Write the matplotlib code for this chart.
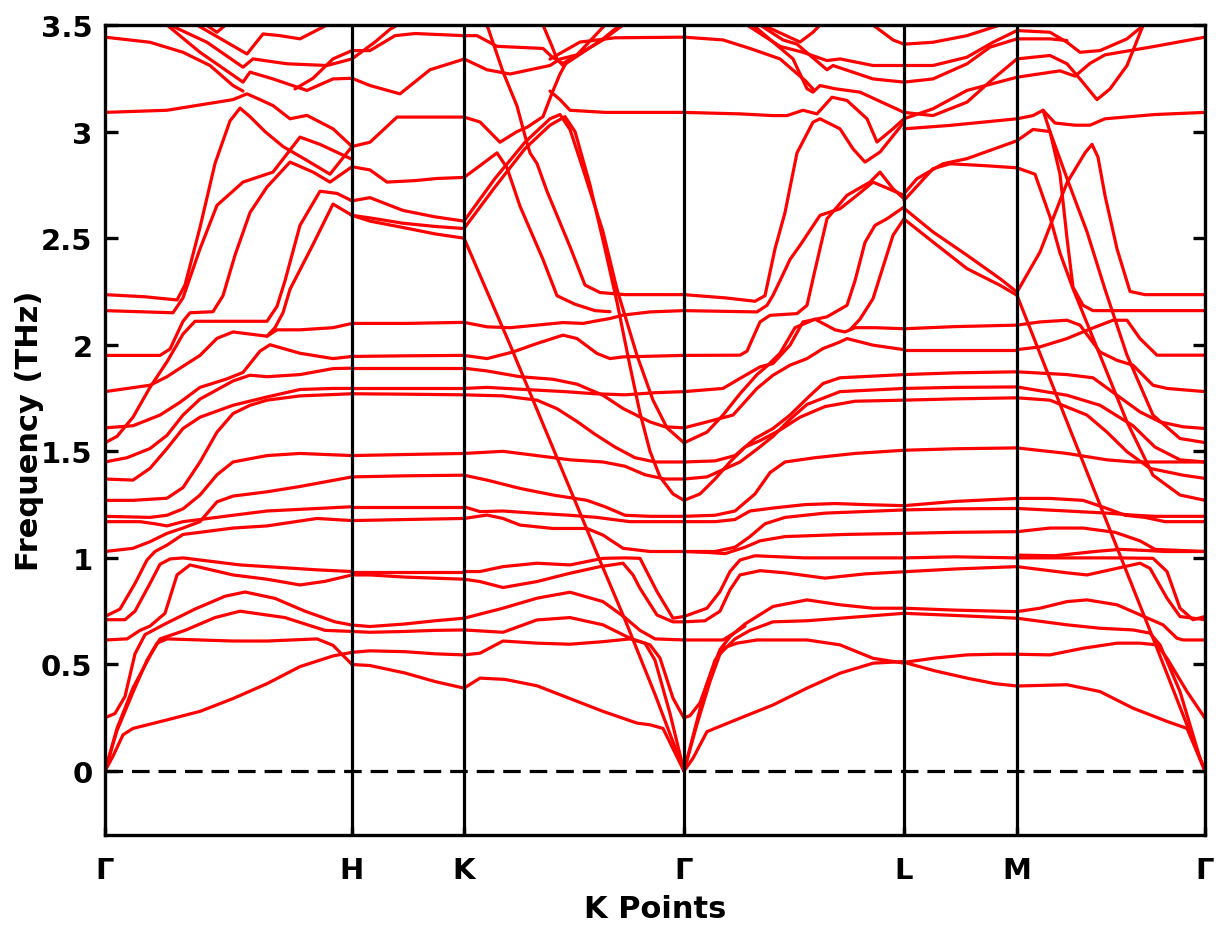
import matplotlib
matplotlib.use("Agg")
import matplotlib.pyplot as plt

# high-symmetry points along the path
kpath_pos = [0.0, 2.47, 3.59, 5.79, 7.99, 9.12, 11.0]
kpath_labels = ["Γ", "H", "K", "Γ", "L", "M", "Γ"]
freq_ticks = [0, 0.5, 1, 1.5, 2, 2.5, 3, 3.5]
freq_labels = ["0", "0.5", "1", "1.5", "2", "2.5", "3", "3.5"]

# phonon branches, (k, frequency THz), segment by segment
seg_gamma_h = [
    ([0,0.08,0.18,0.28,0.62,0.95,1.28,1.62,1.95,2.28,2.47],[0,0.07,0.17,0.20,0.24,0.28,0.34,0.41,0.49,0.54,0.557]),
    ([0,0.12,0.28,0.42,0.52,0.62,1.28,1.62,2.12,2.28,2.47],[0,0.19,0.37,0.52,0.60,0.62,0.61,0.61,0.62,0.59,0.50]),
    ([0,0.12,0.28,0.45,0.55,0.8,1.1,1.35,1.8,2.2,2.47],[0,0.20,0.39,0.54,0.62,0.66,0.72,0.75,0.72,0.66,0.655]),
    ([0,0.1,0.2,0.3,0.4,0.6,0.9,1.2,1.4,1.7,2.0,2.3,2.47],[0.25,0.27,0.35,0.55,0.64,0.69,0.76,0.82,0.84,0.81,0.75,0.70,0.685]),
    ([0,0.22,0.35,0.45,0.6,0.72,0.85,1.28,1.62,1.95,2.2,2.47],[0.615,0.62,0.66,0.68,0.74,0.92,0.967,0.92,0.90,0.873,0.89,0.92]),
    ([0,0.2,0.3,0.45,0.55,0.65,0.78,1.35,2.12,2.47],[0.71,0.71,0.75,0.88,0.97,0.995,1.0,0.967,0.944,0.936]),
    ([0,0.15,0.3,0.42,0.5,0.62,0.78,0.95,1.28,1.62,2.12,2.47],[0.725,0.76,0.88,0.99,1.03,1.06,1.11,1.12,1.14,1.15,1.185,1.175]),
    ([0,0.28,0.45,0.62,0.78,0.95,1.12,1.28,1.62,1.95,2.47],[1.03,1.045,1.076,1.115,1.14,1.17,1.263,1.29,1.31,1.335,1.38]),
    ([0,0.35,0.5,0.62,0.78,0.95,1.28,1.62,2.47],[1.17,1.17,1.16,1.15,1.17,1.18,1.20,1.22,1.24]),
    ([0,0.45,0.62,0.78,0.95,1.12,1.28,1.62,1.95,2.47],[1.195,1.19,1.20,1.23,1.295,1.39,1.45,1.48,1.49,1.48]),
    ([0,0.28,0.62,0.78,0.95,1.12,1.28,1.45,1.62,1.95,2.47],[1.27,1.27,1.28,1.33,1.45,1.59,1.677,1.716,1.74,1.76,1.77]),
    ([0,0.28,0.45,0.62,0.78,0.95,1.28,1.62,1.95,2.28,2.47],[1.37,1.365,1.42,1.513,1.607,1.66,1.716,1.755,1.79,1.795,1.795]),
    ([0,0.22,0.45,0.62,0.78,0.95,1.28,1.45,1.62,1.95,2.28,2.47],[1.45,1.47,1.513,1.575,1.67,1.745,1.83,1.857,1.85,1.86,1.888,1.89]),
    ([0,0.12,0.28,0.45,0.62,0.78,0.9,1.28,1.62,1.72,1.8,1.95,2.15,2.32,2.47],[1.54,1.57,1.66,1.80,1.92,2.05,2.11,2.11,2.11,2.18,2.30,2.56,2.72,2.71,2.675]),
    ([0,0.28,0.55,0.75,0.95,1.22,1.38,1.55,1.65,1.95,2.28,2.47],[1.61,1.62,1.67,1.73,1.80,1.84,1.87,1.97,2.0,1.96,1.935,1.945]),
    ([0,0.45,0.62,0.75,0.95,1.12,1.28,1.45,1.62,1.72,1.95,2.28,2.47],[1.78,1.81,1.85,1.89,1.95,2.03,2.06,2.05,2.04,2.07,2.07,2.08,2.10]),
    ([1.62,1.7,1.78,1.85,2.08,2.28,2.47],[2.04,2.08,2.15,2.26,2.47,2.66,2.607]),
    ([0,0.55,0.65,0.78,0.85,1.08,1.18,1.3,1.45,1.62,1.85,2.08,2.25,2.47],[1.95,1.95,1.98,2.11,2.15,2.155,2.23,2.42,2.62,2.74,2.857,2.81,2.763,2.835]),
    ([0,0.68,0.78,0.95,1.12,1.38,1.68,1.95,2.15,2.47],[2.16,2.15,2.22,2.45,2.654,2.763,2.81,2.974,2.94,2.87]),
    ([0,0.4,0.72,0.8,0.95,1.1,1.25,1.35,1.45,1.6,1.78,2.0,2.25,2.47],[2.235,2.225,2.21,2.28,2.55,2.85,3.05,3.11,3.07,3.0,2.93,2.87,2.80,2.93]),
    ([0,0.62,1.28,1.42,1.55,1.68,1.85,2.02,2.28,2.47],[3.09,3.10,3.15,3.177,3.15,3.122,3.06,3.076,3.013,2.93]),
    ([0,0.45,0.78,1.05,1.28,1.38],[3.443,3.419,3.372,3.31,3.216,3.19]),
    ([0.62,0.95,1.38,1.45,1.68,2.02,2.28,2.47],[3.50,3.372,3.232,3.279,3.247,3.193,3.247,3.25]),
    ([0.65,1.02,1.38,1.48,1.82,2.22,2.47],[3.50,3.419,3.302,3.341,3.318,3.31,3.341]),
    ([0.92,1.42,1.58,1.75,1.95,2.22],[3.50,3.364,3.458,3.45,3.435,3.50]),
    ([0.98,1.12,1.23],[3.51,3.466,3.51]),
    ([1.9,2.08,2.28,2.47],[3.2,3.25,3.341,3.38]),
]

seg_h_k = [
    ([2.47,3.0,3.59],[2.10,2.10,2.105]),
    ([2.47,3.0,3.59],[1.945,1.948,1.95]),
    ([2.47,3.0,3.59],[1.89,1.89,1.89]),
    ([2.47,3.0,3.59],[1.795,1.795,1.795]),
    ([2.47,3.0,3.59],[1.77,1.768,1.765]),
    ([2.47,3.0,3.59],[1.48,1.485,1.49]),
    ([2.47,3.0,3.59],[1.38,1.385,1.388]),
    ([2.47,3.0,3.59],[1.24,1.24,1.24]),
    ([2.47,3.0,3.59],[1.175,1.18,1.185]),
    ([2.47,3.0,3.59],[0.936,0.936,0.936]),
    ([2.47,2.65,3.0,3.59],[0.92,0.92,0.91,0.90]),
    ([2.47,2.65,3.0,3.3,3.59],[0.685,0.678,0.69,0.705,0.717]),
    ([2.47,2.65,3.0,3.3,3.59],[0.655,0.651,0.655,0.66,0.662]),
    ([2.47,2.65,3.0,3.3,3.59],[0.557,0.564,0.56,0.55,0.545]),
    ([2.47,2.65,3.0,3.3,3.59],[0.50,0.495,0.46,0.42,0.389]),
    ([2.47,2.65,2.98,3.3,3.59],[2.675,2.69,2.63,2.60,2.58]),
    ([2.47,2.65,2.98,3.3,3.59],[2.607,2.595,2.57,2.555,2.545]),
    ([2.47,2.65,2.98,3.3,3.59],[2.607,2.58,2.55,2.52,2.50]),
    ([2.47,2.65,2.82,3.1,3.32,3.59],[2.835,2.82,2.763,2.77,2.78,2.785]),
    ([2.47,2.65,2.92,3.2,3.59],[2.93,2.95,3.068,3.068,3.068]),
    ([2.47,2.65,2.95,3.25,3.59],[3.25,3.216,3.177,3.29,3.34]),
    ([2.47,2.65,2.9,3.1,3.59],[3.38,3.38,3.45,3.46,3.45]),
    ([2.47,2.7,2.85,3.0],[3.341,3.42,3.48,3.52]),
]

seg_k_gamma = [
    ([3.59,3.75,3.98,4.32,4.65,4.98,5.2,5.35,5.52,5.68,5.79],[0.936,0.936,0.959,0.975,0.967,0.998,1.0,0.998,0.842,0.717,0.725]),
    ([3.59,3.75,3.98,4.32,4.65,4.95,5.18,5.28,5.35,5.52,5.68,5.79],[0.90,0.889,0.861,0.889,0.928,0.959,0.975,0.92,0.857,0.732,0.70,0.70]),
    ([3.59,3.98,4.32,4.65,4.98,5.2,5.35,5.5,5.79],[0.717,0.764,0.811,0.839,0.795,0.72,0.66,0.62,0.615]),
    ([3.59,3.98,4.32,4.65,4.98,5.25,5.45,5.55,5.68,5.79],[0.662,0.651,0.709,0.72,0.686,0.623,0.592,0.53,0.342,0.248]),
    ([3.59,3.75,3.98,4.32,4.65,4.98,5.25,5.4,5.5,5.65,5.79],[0.545,0.553,0.61,0.60,0.595,0.607,0.62,0.60,0.52,0.27,0.0]),
    ([3.59,3.75,4.0,4.32,4.65,4.98,5.32,5.45,5.58,5.79],[0.389,0.436,0.43,0.40,0.34,0.28,0.225,0.217,0.20,0.0]),
    ([3.59,4.05,4.52,4.92,5.2,5.5,5.79],[2.50,2.0,1.47,1.02,0.71,0.36,0.0]),
    ([3.59,3.82,4.05,4.32,4.58,4.78,4.95,5.05,5.18,5.45,5.79],[2.105,2.084,2.08,2.092,2.104,2.10,2.115,2.123,2.139,2.154,2.16]),
    ([3.59,3.82,4.08,4.32,4.58,4.72,4.92,5.05,5.18,5.79],[1.95,1.935,1.966,2.006,2.045,2.029,1.959,1.935,1.943,1.95]),
    ([3.59,3.82,4.15,4.48,4.72,4.98,5.18,5.45,5.6,5.79],[1.89,1.877,1.85,1.838,1.815,1.763,1.701,1.638,1.615,1.61]),
    ([3.59,3.82,4.2,4.6,4.9,5.2,5.5,5.79],[1.795,1.80,1.79,1.78,1.77,1.765,1.775,1.78]),
    ([3.59,3.98,4.32,4.52,4.72,4.9,5.1,5.3,5.5,5.79],[1.765,1.76,1.74,1.70,1.64,1.58,1.52,1.47,1.45,1.45]),
    ([3.59,3.98,4.32,4.65,4.98,5.2,5.4,5.6,5.79],[1.49,1.50,1.48,1.46,1.45,1.43,1.39,1.37,1.37]),
    ([3.59,3.82,4.15,4.48,4.82,5.0,5.2,5.45,5.79],[1.388,1.365,1.326,1.295,1.27,1.24,1.20,1.195,1.195]),
    ([3.59,3.75,3.98,4.32,4.65,4.92,5.08,5.25,5.45,5.79],[1.24,1.217,1.22,1.209,1.20,1.19,1.18,1.17,1.17,1.17]),
    ([3.59,3.82,3.98,4.15,4.48,4.82,4.98,5.18,5.45,5.79],[1.185,1.201,1.185,1.154,1.138,1.138,1.107,1.045,1.03,1.03]),
    ([3.59,3.9,4.2,4.45,4.55,4.65,4.78,4.98,5.12,5.32,5.48,5.62,5.79],[2.58,2.78,2.95,3.06,3.08,3.01,2.825,2.53,2.26,1.95,1.74,1.61,1.54]),
    ([3.59,3.9,4.2,4.45,4.6,4.7,4.85,5.0,5.12,5.25,5.35,5.45,5.55,5.68,5.79],[2.545,2.74,2.92,3.03,3.07,3.0,2.75,2.45,2.2,1.9,1.68,1.5,1.38,1.30,1.27]),
    ([3.59,3.75,3.92,4.02,4.15,4.38,4.52,4.7,4.9,5.05],[2.785,2.84,2.90,2.83,2.65,2.40,2.23,2.19,2.16,2.155]),
    ([3.82,3.98,4.12,4.2,4.25,4.32,4.42,4.65,4.8,4.95,5.2,5.79],[3.5,3.28,3.12,2.98,2.90,2.85,2.72,2.46,2.28,2.245,2.235,2.235]),
    ([3.59,3.75,3.95,4.12,4.22,4.38,4.47,4.55,4.62],[3.068,3.045,2.95,3.0,3.02,3.07,3.18,3.27,3.33]),
    ([4.45,4.55,4.65,5.0,5.79],[3.19,3.15,3.10,3.09,3.09]),
    ([3.59,3.72,3.92,4.38,4.47,4.58,4.98,5.18],[3.45,3.45,3.40,3.39,3.35,3.32,3.43,3.50]),
    ([3.59,3.82,4.05,4.45,4.55,4.72,5.0],[3.341,3.29,3.27,3.31,3.34,3.36,3.5]),
    ([4.38,4.47,4.52,4.58,4.78,4.98,5.15],[3.50,3.40,3.34,3.31,3.372,3.435,3.50]),
    ([4.45,4.75,5.1,5.79],[3.34,3.42,3.44,3.443]),
]

seg_gamma_l = [
    ([5.79,5.88,6.02,6.35,6.68,7.02,7.35,7.68,7.99],[0,0.06,0.185,0.248,0.31,0.389,0.459,0.506,0.514]),
    ([5.79,5.9,6.0,6.1,6.2,6.32,6.52,7.02,7.35,7.68,7.99],[0,0.2,0.38,0.52,0.58,0.60,0.615,0.615,0.592,0.529,0.506]),
    ([5.79,5.92,6.05,6.15,6.3,6.45,6.68,7.02,7.35,7.99],[0,0.22,0.42,0.55,0.62,0.66,0.70,0.705,0.717,0.74]),
    ([5.79,5.85,5.95,6.05,6.15,6.25,6.4,6.68,7.02,7.35,7.68,7.99],[0.25,0.26,0.32,0.45,0.57,0.63,0.69,0.772,0.803,0.78,0.764,0.764]),
    ([5.79,6.18,6.3,6.4],[0.615,0.615,0.65,0.68]),
    ([5.79,6.0,6.15,6.25,6.35,6.55,6.8,7.2,7.6,7.99],[0.70,0.705,0.75,0.85,0.92,0.94,0.93,0.905,0.925,0.935]),
    ([5.79,6.02,6.15,6.25,6.35,6.5,7.0,7.99],[0.725,0.764,0.842,0.936,0.99,1.01,1.0,1.0]),
    ([5.79,6.05,6.2,6.4,6.55,6.8,7.4,7.99],[1.03,1.025,1.02,1.05,1.08,1.10,1.11,1.115]),
    ([5.79,6.1,6.3,6.45,6.6,6.8,7.2,7.99],[1.03,1.03,1.05,1.1,1.16,1.19,1.21,1.225]),
    ([5.79,6.1,6.3,6.45,6.7,7.0,7.3,7.6,7.99],[1.17,1.17,1.18,1.22,1.235,1.25,1.255,1.25,1.245]),
    ([5.79,6.1,6.3,6.5,6.65,6.8,7.1,7.5,7.99],[1.195,1.20,1.22,1.30,1.40,1.45,1.47,1.49,1.505]),
    ([5.79,5.95,6.1,6.25,6.4,6.55,6.75,6.95,7.2,7.5,7.99],[1.27,1.30,1.37,1.45,1.52,1.55,1.60,1.66,1.71,1.735,1.74]),
    ([5.79,6.02,6.35,6.52,6.68,6.85,7.02,7.35,7.99],[1.37,1.38,1.45,1.51,1.57,1.65,1.72,1.78,1.795]),
    ([5.79,6.1,6.3,6.5,6.68,6.85,7.02,7.18,7.35,7.99],[1.45,1.455,1.48,1.56,1.607,1.67,1.748,1.818,1.845,1.86]),
    ([5.79,6.02,6.18,6.35,6.52,6.62,6.75,6.9,7.1,7.3,7.4,7.5,7.7,7.99],[1.54,1.59,1.67,1.77,1.86,1.90,1.96,2.08,2.12,2.07,2.06,2.08,2.08,2.075]),
    ([5.79,6.02,6.28,6.52,6.68,6.85,7.02,7.18,7.35,7.42,7.68,7.99],[1.61,1.638,1.67,1.795,1.857,1.904,1.935,1.982,2.013,2.029,1.998,1.977]),
    ([5.79,6.18,6.35,6.55,6.68,6.85,6.98,7.22,7.42,7.5,7.6,7.7,7.82,7.99],[1.78,1.795,1.842,1.896,1.912,1.998,2.107,2.131,2.185,2.3,2.48,2.56,2.591,2.646]),
    ([7.45,7.55,7.68,7.88,7.99],[2.07,2.12,2.216,2.513,2.591]),
    ([5.79,6.2,6.5,6.6,6.7,6.8,6.92,7.08,7.15,7.35,7.48,7.6,7.75,7.99],[2.235,2.22,2.204,2.23,2.45,2.62,2.90,3.044,3.06,3.013,2.919,2.857,2.904,3.044]),
    ([5.79,6.52,6.62,6.68,6.75,6.85,6.95,7.15,7.35,7.52,7.68,7.99],[2.16,2.154,2.185,2.232,2.30,2.40,2.466,2.607,2.638,2.701,2.763,2.701]),
    ([5.79,6.35,6.42,6.55,6.65,6.92,7.02,7.1,7.22,7.42,7.65,7.75,7.88,7.99],[1.95,1.951,1.97,2.107,2.138,2.146,2.185,2.35,2.591,2.701,2.763,2.81,2.732,2.685]),
    ([5.79,6.35,6.68,6.82,6.98,7.12,7.27,7.42,7.62,7.72,7.88,7.99],[3.09,3.083,3.075,3.075,3.10,3.083,3.161,3.146,3.06,2.951,3.013,3.06]),
    ([6.48,6.88,7.02,7.08,7.15,7.3,7.55,7.99],[3.50,3.341,3.201,3.185,3.216,3.201,3.185,3.09]),
    ([5.79,6.18,6.45,6.75,7.0,7.08],[3.443,3.43,3.39,3.341,3.24,3.20]),
    ([6.42,6.75,6.98,7.22,7.35,7.68,7.99],[3.50,3.40,3.372,3.333,3.341,3.31,3.31]),
    ([6.55,6.78,6.92,7.22,7.28,7.68,7.99],[3.50,3.43,3.41,3.29,3.31,3.247,3.232]),
    ([6.58,6.95,7.08,7.15],[3.50,3.42,3.466,3.50]),
    ([7.68,7.88,7.99],[3.50,3.43,3.41]),
]

seg_l_m = [
    ([7.99,8.3,8.62,8.9,9.12],[0.51,0.47,0.436,0.41,0.399]),
    ([7.99,8.3,8.62,8.9,9.12],[0.51,0.53,0.545,0.548,0.548]),
    ([7.99,8.5,9.12],[0.74,0.73,0.717]),
    ([7.99,8.5,9.12],[0.764,0.755,0.748]),
    ([7.99,8.5,9.12],[0.935,0.948,0.959]),
    ([7.99,8.5,9.12],[1.0,1.005,1.0]),
    ([7.99,8.5,9.12],[1.115,1.12,1.123]),
    ([7.99,8.5,9.12],[1.225,1.23,1.232]),
    ([7.99,8.5,9.12],[1.245,1.265,1.279]),
    ([7.99,8.5,9.12],[1.505,1.512,1.516]),
    ([7.99,8.5,9.12],[1.74,1.746,1.751]),
    ([7.99,8.5,9.12],[1.795,1.80,1.802]),
    ([7.99,8.5,9.12],[1.86,1.868,1.873]),
    ([7.99,8.5,9.12],[1.977,1.977,1.977]),
    ([7.99,8.5,9.12],[2.075,2.085,2.092]),
    ([7.99,8.28,8.62,8.95],[3.41,3.419,3.45,3.50]),
    ([7.99,8.28,8.62,8.88,9.12,9.45,9.62,9.75,9.95,10.22,10.38],[3.31,3.31,3.349,3.419,3.474,3.466,3.419,3.372,3.38,3.435,3.497]),
    ([7.99,8.28,8.62,8.85,9.12,9.45,9.62],[3.232,3.247,3.318,3.396,3.435,3.435,3.427]),
    ([7.99,8.28,8.62,8.88,9.12,9.45,9.62,9.75,9.92,10.05,10.22,10.38],[3.09,3.075,3.138,3.247,3.341,3.357,3.318,3.247,3.15,3.2,3.31,3.497]),
    ([7.99,8.28,8.62,9.12,9.55,9.7,9.85,10.0,10.5,11.0],[3.06,3.107,3.193,3.255,3.285,3.26,3.32,3.36,3.40,3.443]),
    ([7.99,8.45,9.12,9.28,9.38,9.45,9.62,9.82,10.0,10.22,10.48,10.75,11.0],[3.013,3.029,3.06,3.075,3.10,3.0,2.78,2.53,2.26,1.951,1.67,1.56,1.541]),
    ([7.99,8.12,8.38,8.62,9.12,9.28,9.45,9.55,9.62,9.68,9.78,9.88,10.3,11.0],[2.709,2.779,2.849,2.873,2.957,3.01,3.0,2.8,2.5,2.27,2.185,2.16,2.16,2.16]),
    ([7.99,8.28,8.45,8.8,9.12,9.3,9.45,9.55,9.68,9.95,10.22,10.48,10.75,11.0],[2.677,2.826,2.849,2.84,2.83,2.80,2.6,2.43,2.263,1.951,1.638,1.388,1.295,1.27]),
    ([7.99,8.28,8.62,8.95,9.12,9.35,9.62,9.8,9.87,9.93,10.0,10.12,10.25,10.4,11.0],[2.64,2.529,2.42,2.31,2.247,2.435,2.76,2.9,2.94,2.88,2.7,2.45,2.25,2.235,2.235]),
    ([7.99,8.28,8.62,8.95,9.12,9.5,10.0,10.5,11.0],[2.59,2.482,2.357,2.279,2.232,1.78,1.19,0.60,0.0]),
    ([9.38,9.5,9.7,9.85,10.0,10.5,11.0],[3.10,3.04,3.03,3.03,3.06,3.08,3.09]),
]

seg_m_gamma = [
    ([9.12,9.62,9.95,10.28,10.45,10.55,10.75,10.95,11.0],[0.717,0.686,0.67,0.662,0.647,0.592,0.373,0.06,0.0]),
    ([9.12,9.45,9.78,10.12,10.35,10.52,10.62,10.82,11.0],[0.548,0.545,0.576,0.60,0.60,0.592,0.529,0.373,0.248]),
    ([9.12,9.62,9.95,10.28,10.62,10.82,11.0],[0.399,0.405,0.373,0.295,0.233,0.20,0.0]),
    ([9.12,9.35,9.62,9.82,10.12,10.35,10.58,10.72,10.78,11.0],[0.748,0.764,0.795,0.803,0.78,0.733,0.686,0.623,0.615,0.615]),
    ([9.12,9.62,9.82,10.12,10.35,10.45,10.62,10.75,11.0],[0.959,0.93,0.92,0.951,0.975,0.951,0.811,0.725,0.71]),
    ([9.12,9.62,10.12,10.48,10.62,10.75,10.88,11.0],[1.0,1.0,1.0,0.998,0.936,0.764,0.71,0.725]),
    ([9.12,9.45,9.78,10.02,10.2,10.4,10.6,11.0],[1.279,1.279,1.27,1.232,1.20,1.19,1.17,1.17]),
    ([9.12,9.62,10.02,10.3,10.5,10.7,11.0],[1.232,1.22,1.21,1.20,1.195,1.195,1.195]),
    ([9.12,9.45,9.78,10.1,10.35,10.5,11.0],[1.123,1.14,1.14,1.12,1.08,1.04,1.03]),
    ([9.12,9.5,9.9,10.15,10.4,10.6,11.0],[1.013,1.01,1.03,1.04,1.035,1.03,1.03]),
    ([9.12,9.62,10.02,10.28,10.55,11.0],[1.516,1.49,1.46,1.45,1.45,1.45]),
    ([9.12,9.45,9.82,10.02,10.22,10.45,10.78,11.0],[1.751,1.74,1.67,1.59,1.498,1.42,1.388,1.373]),
    ([9.12,9.62,9.95,10.28,10.5,10.75,11.0],[1.802,1.763,1.716,1.62,1.52,1.46,1.45]),
    ([9.12,9.62,9.88,10.12,10.35,10.55,10.78,11.0],[1.873,1.86,1.845,1.763,1.685,1.638,1.615,1.607]),
    ([9.12,9.35,9.62,9.82,10.08,10.22,10.35,10.52,11.0],[1.977,1.99,2.029,2.068,2.115,2.115,2.029,1.951,1.951]),
    ([9.12,9.35,9.62,9.75,9.95,10.12,10.28,10.48,10.62,11.0],[2.092,2.107,2.115,2.092,1.966,1.927,1.904,1.81,1.795,1.78]),
]

segments = [seg_gamma_h, seg_h_k, seg_k_gamma, seg_gamma_l, seg_l_m, seg_m_gamma]

fig = plt.figure(figsize=(12.19, 9.28), dpi=100)
ax = fig.add_axes([105 / 1219, 1 - 836 / 928, 1100 / 1219, 810 / 928])

for seg in segments:
    for k, f in seg:
        ax.plot(k, f, color="#ff0000", lw=2.3, solid_joinstyle="round",
                solid_capstyle="round", zorder=3)

ax.axhline(0, color="black", lw=2.3, ls=(0, (5.5, 2.8)), zorder=4)
for xv in kpath_pos[1:-1]:
    ax.axvline(xv, color="black", lw=2.3, zorder=5)

ax.set_xlim(kpath_pos[0], kpath_pos[-1])
ax.set_ylim(-0.3, 3.5)
ax.set_xticks(kpath_pos)
ax.set_xticklabels(kpath_labels)
ax.set_yticks(freq_ticks)
ax.set_yticklabels(freq_labels)

for sp in ax.spines.values():
    sp.set_linewidth(2.4)
    sp.set_zorder(6)

ax.tick_params(axis="y", direction="in", length=9, width=2.4, right=True,
               labelsize=21, pad=9)
ax.tick_params(axis="x", direction="in", length=6, width=2.4, top=False,
               labelsize=21, pad=15)
for lab in ax.get_xticklabels() + ax.get_yticklabels():
    lab.set_fontweight("bold")

ax.set_xlabel("K Points", fontsize=22, fontweight="bold", labelpad=7)
ax.set_ylabel("Frequency (THz)", fontsize=22, fontweight="bold", labelpad=-2)

fig.savefig("out.png", dpi=100)
